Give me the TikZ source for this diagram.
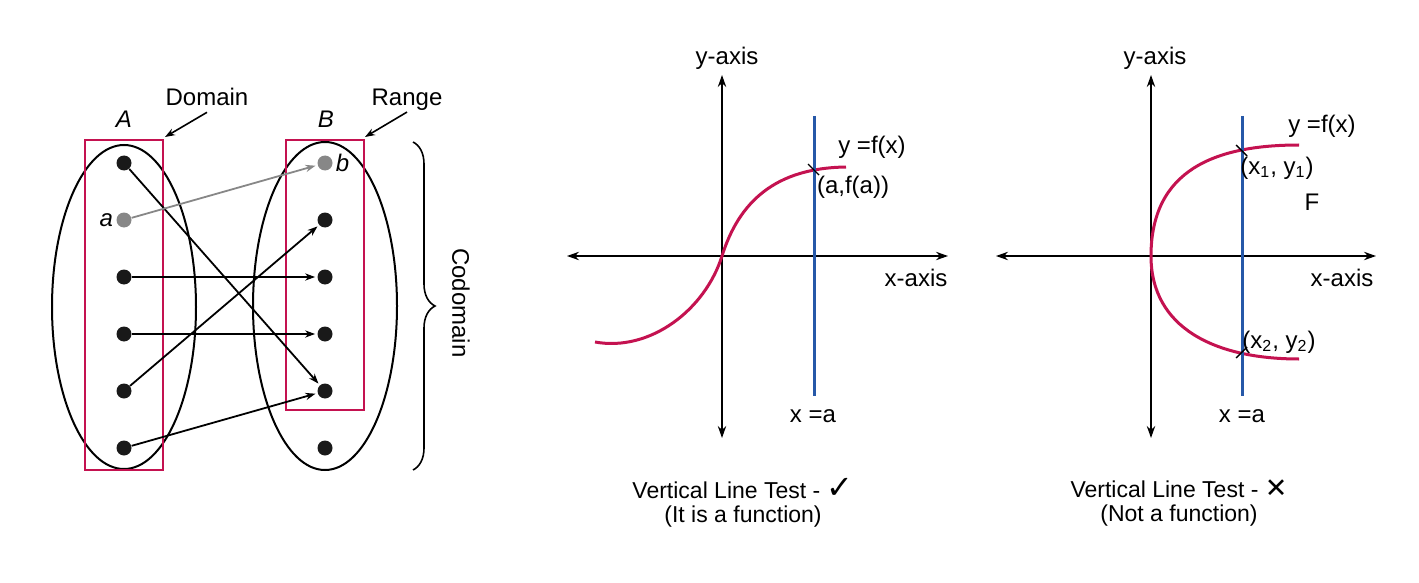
\documentclass[tikz,border=0pt]{standalone}
\usepackage{fontspec}
\setmainfont{Liberation Sans}
\newfontfamily\dejavu{DejaVu Sans}
\usetikzlibrary{arrows.meta,decorations.pathreplacing}
\definecolor{crimson}{RGB}{196,18,80}
\definecolor{lineblue}{RGB}{38,88,168}
\definecolor{dotgray}{RGB}{135,135,135}
\tikzset{
	dot/.style={circle, fill=#1, inner sep=0pt, minimum size=7.5pt},
	dot/.default={black!90},
	maparrow/.style={line width=0.9pt, -{Stealth[length=5pt,width=3.6pt]}, shorten >=1pt},
	setbox/.style={draw=crimson, line width=1pt},
	axisline/.style={line width=0.8pt, {Stealth[length=6pt,width=4.2pt]}-{Stealth[length=6pt,width=4.2pt]}},
	fcurve/.style={draw=crimson, line width=1.5pt},
	vline/.style={draw=lineblue, line width=1.5pt},
	crossmark/.style={line width=0.7pt},
	pointer/.style={line width=0.8pt, -{Stealth[length=5pt,width=3.6pt]}}
}
\begin{document}
\begin{tikzpicture}[x=0.5pt,y=-0.5pt,font=\fontsize{12}{14}\selectfont]
	\useasboundingbox (0,0) rectangle (1419,583);
	% sets A and B
	\draw[line width=1pt] (124,307) ellipse [x radius=36pt, y radius=81pt];
	\draw[line width=1pt] (325,306) ellipse [x radius=36pt, y radius=82pt];
	\draw[setbox] (85,140) rectangle (163,470);
	\draw[setbox] (286,140) rectangle (364,410);
	\foreach \i/\y in {1/163, 3/277, 4/334, 5/391, 6/448}
	\node[dot] (a\i) at (124,\y) {};
	\foreach \i/\y in {2/220, 3/277, 4/334, 5/391, 6/448}
	\node[dot] (b\i) at (325,\y) {};
	\node[dot=dotgray, label={[label distance=-2pt]left:\textit{a}}] (a2) at (124,220) {};
	\node[dot=dotgray, label={[label distance=-2pt]right:\textit{b}}] (b1) at (325,163) {};
	\foreach \s/\t in {1/5, 3/3, 4/4, 5/2, 6/5}
	\draw[maparrow] (a\s) -- (b\t);
	\draw[maparrow, dotgray] (a2) -- (b1);
	\node (setA) at (124,119) {\textit{A}};
	\node (setB) at (326,119) {\textit{B}};
	\node[anchor=base] (dom) at (207,105) {Domain};
	\node[anchor=base, text depth=0pt] (rng) at (407,105) {Range};
	\path (165,137) coordinate (domtip) (365,137) coordinate (rngtip);
	\draw[pointer] (dom.south) -- (domtip);
	\draw[pointer] (rng.south) -- (rngtip);
	\draw[decorate, decoration={brace, amplitude=11pt}, line width=0.8pt] (413,142) -- (413,470);
	\node[rotate=-90] (codom) at (461,303) {Codomain};
	% vertical line test: function
	\path (722,256) coordinate (O1) (567,256) coordinate (xl1) (948,256) coordinate (xr1)
	(722,75) coordinate (yt1) (722,438) coordinate (yb1);
	\draw[axisline] (xl1) -- (xr1);
	\draw[axisline] (yt1) -- (yb1);
	\draw[fcurve] (595,342) .. controls (650,352) and (705,310) .. (O1)
	.. controls (739,202) and (775,168) .. (846,167);
	\draw[vline] (814,116) -- (814,396);
	\draw[crossmark] (808,164) -- (819,175);
	\node (yax1) at (727,58) {y-axis};
	\node (fx1) at (872,147) {y =f(x)};
	\node (pt1) at (853,187) {(a,f(a))};
	\node (xax1) at (916,278) {x-axis};
	\node (xa1) at (813,416) {x =a};
	\node[align=center, font=\fontsize{11.5}{12}\selectfont] (cap1) at (743,503)
	{Vertical Line Test - {\dejavu\fontsize{16}{12}\selectfont ✓}\\(It is a function)};
	% vertical line test: not a function
	\path (1151,256) coordinate (O2) (996,256) coordinate (xl2) (1376,256) coordinate (xr2)
	(1151,75) coordinate (yt2) (1151,438) coordinate (yb2);
	\draw[axisline] (xl2) -- (xr2);
	\draw[axisline] (yt2) -- (yb2);
	\draw[fcurve] (1299,145) .. controls (1215,145) and (1151,170) .. (O2)
	.. controls (1151,328) and (1215,359) .. (1299,359);
	\draw[vline] (1242,116) -- (1242,396);
	\draw[crossmark] (1236,145) -- (1247,156) (1236,358) -- (1247,347);
	\node (yax2) at (1155,58) {y-axis};
	\node (fx2) at (1322,126) {y =f(x)};
	\node (pt2) at (1277,168) {(x\textsubscript{1}, y\textsubscript{1})};
	\node (lblF) at (1312,202) {F};
	\node (xax2) at (1342,278) {x-axis};
	\node (pt3) at (1279,342) {(x\textsubscript{2}, y\textsubscript{2})};
	\node (xa2) at (1242,416) {x =a};
	\node[align=center, font=\fontsize{11.5}{12}\selectfont] (cap2) at (1179,503)
	{Vertical Line Test - {\dejavu\fontsize{13.5}{12}\selectfont ✕}\\(Not a function)};
\end{tikzpicture}
\end{document}
